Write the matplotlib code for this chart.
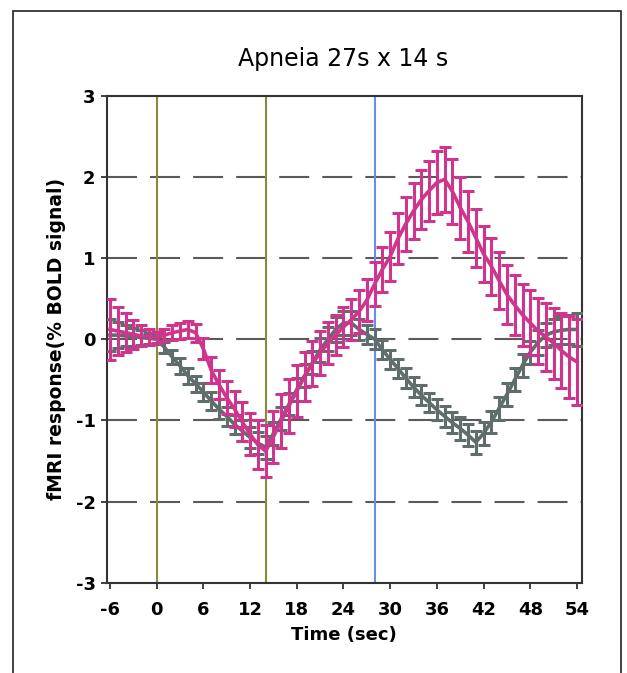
import matplotlib
matplotlib.use("Agg")
import matplotlib.pyplot as plt
from matplotlib.patches import Rectangle

plt.rcParams['font.family'] = ['DejaVu Sans']
plt.rcParams['lines.scale_dashes'] = False
plt.rcParams['axes.unicode_minus'] = False

title = "Apneia 27s x 14 s"
xlabel = "Time (sec)"
ylabel = "fMRI response(% BOLD signal)"

time = [-6, -5, -4, -3, -2, -1, 0, 1, 2, 3, 4, 5, 6, 7, 8, 9, 10,
        11, 12, 13, 14, 15, 16, 17, 18, 19, 20, 21, 22, 23, 24, 25,
        26, 27, 28, 29, 30, 31, 32, 33, 34, 35, 36, 37, 38, 39, 40,
        41, 42, 43, 44, 45, 46, 47, 48, 49, 50, 51, 52, 53, 54]

magenta_mean = [0.12, 0.1, 0.08, 0.06, 0.04, 0.03, 0.02, 0.05, 0.08, 0.1, 0.12,
                0.08, -0.12, -0.38, -0.56, -0.72, -0.86, -1.02, -1.17, -1.3, -1.38,
                -1.2, -1.01, -0.82, -0.64, -0.46, -0.3, -0.17, -0.05, 0.05, 0.15,
                0.24, 0.34, 0.48, 0.68, 0.86, 1.02, 1.24, 1.42, 1.58, 1.72,
                1.83, 1.93, 1.97, 1.82, 1.62, 1.45, 1.25, 1.05, 0.9, 0.72,
                0.55, 0.42, 0.3, 0.2, 0.1, 0.03, -0.05, -0.14, -0.22, -0.28]
magenta_err = [0.38, 0.3, 0.24, 0.18, 0.13, 0.1, 0.07, 0.07, 0.09, 0.1, 0.1,
               0.11, 0.13, 0.16, 0.18, 0.2, 0.22, 0.24, 0.26, 0.3, 0.32,
               0.32, 0.33, 0.33, 0.32, 0.3, 0.28, 0.27, 0.26, 0.25, 0.25,
               0.25, 0.26, 0.26, 0.27, 0.28, 0.3, 0.31, 0.33, 0.34, 0.36,
               0.37, 0.39, 0.4, 0.4, 0.38, 0.37, 0.36, 0.35, 0.35, 0.35,
               0.36, 0.37, 0.38, 0.4, 0.41, 0.42, 0.44, 0.46, 0.5, 0.53]

gray_mean = [0.05, 0.05, 0.04, 0.03, 0.02, 0.01, 0.0, -0.1, -0.22, -0.33, -0.45,
             -0.55, -0.65, -0.76, -0.86, -0.95, -1.05, -1.13, -1.21, -1.28, -1.33,
             -1.16, -0.98, -0.8, -0.62, -0.45, -0.29, -0.13, 0.0, 0.12, 0.2,
             0.2, 0.12, 0.06, 0.0, -0.13, -0.25, -0.36, -0.48, -0.59, -0.69,
             -0.78, -0.87, -0.95, -1.03, -1.1, -1.18, -1.27, -1.16, -1.02, -0.85,
             -0.68, -0.5, -0.32, -0.16, -0.04, 0.05, 0.09, 0.11, 0.12, 0.12]
gray_err = [0.2, 0.16, 0.13, 0.11, 0.09, 0.07, 0.06, 0.07, 0.09, 0.1, 0.1,
            0.1, 0.11, 0.11, 0.12, 0.12, 0.12, 0.13, 0.13, 0.14, 0.14,
            0.14, 0.14, 0.14, 0.14, 0.14, 0.14, 0.15, 0.15, 0.15, 0.15,
            0.15, 0.13, 0.12, 0.12, 0.12, 0.12, 0.12, 0.12, 0.12, 0.12,
            0.12, 0.13, 0.13, 0.13, 0.14, 0.14, 0.14, 0.14, 0.14, 0.14,
            0.14, 0.14, 0.14, 0.14, 0.15, 0.15, 0.16, 0.17, 0.18, 0.2]

event_times = [0, 14, 28]
event_colors = ['#8a8a3c', '#8a8a3c', '#6a8cf0']
grid_levels = [-2, -1, 0, 1, 2]
xticks = [-6, 0, 6, 12, 18, 24, 30, 36, 42, 48, 54]
yticks = [-3, -2, -1, 0, 1, 2, 3]

MAGENTA = '#d0358d'
GRAY = '#5f6d6d'

fig = plt.figure(figsize=(6.27, 6.73), dpi=100)
ax = fig.add_axes([0.1702, 0.1342, 0.9282 - 0.1702, 0.8578 - 0.1342])

for g in grid_levels:
    ax.axhline(g, color='#5a5a5a', lw=1.5, dashes=(21.6, 9.4), zorder=1)
for t, c in zip(event_times, event_colors):
    ax.axvline(t, color=c, lw=1.5, zorder=1)

ax.errorbar(time, gray_mean, yerr=gray_err, color=GRAY, lw=2.6,
            elinewidth=2.2, capsize=4.3, capthick=2.2, zorder=3)
ax.errorbar(time, magenta_mean, yerr=magenta_err, color=MAGENTA, lw=2.6,
            elinewidth=2.2, capsize=4.3, capthick=2.2, zorder=4)

ax.set_xlim(-6.42, 54.64)
ax.set_ylim(-3, 3)
ax.set_xticks(xticks)
ax.set_yticks(yticks)
ax.tick_params(direction='out', length=4, width=1.3, color='#333333',
               labelsize=13)
ax.tick_params(axis='x', pad=9)
ax.tick_params(axis='y', pad=4)
for lab in ax.get_xticklabels() + ax.get_yticklabels():
    lab.set_fontweight('bold')
for s in ax.spines.values():
    s.set_linewidth(1.5)
    s.set_color('#333333')

ax.set_xlabel(xlabel, fontsize=13, fontweight='bold', labelpad=5)
ax.set_ylabel(ylabel, fontsize=13.5, fontweight='bold', labelpad=7)
fig.text(343 / 627, 1 - 59 / 673, title, fontsize=17, ha='center', va='center')

fig.patches.append(Rectangle((13 / 627, -0.05), (621 - 13) / 627, 1.05 - 11 / 673,
                             transform=fig.transFigure, fill=False,
                             edgecolor='#222222', lw=1.2, zorder=0))

fig.savefig('out.png', dpi=100)
